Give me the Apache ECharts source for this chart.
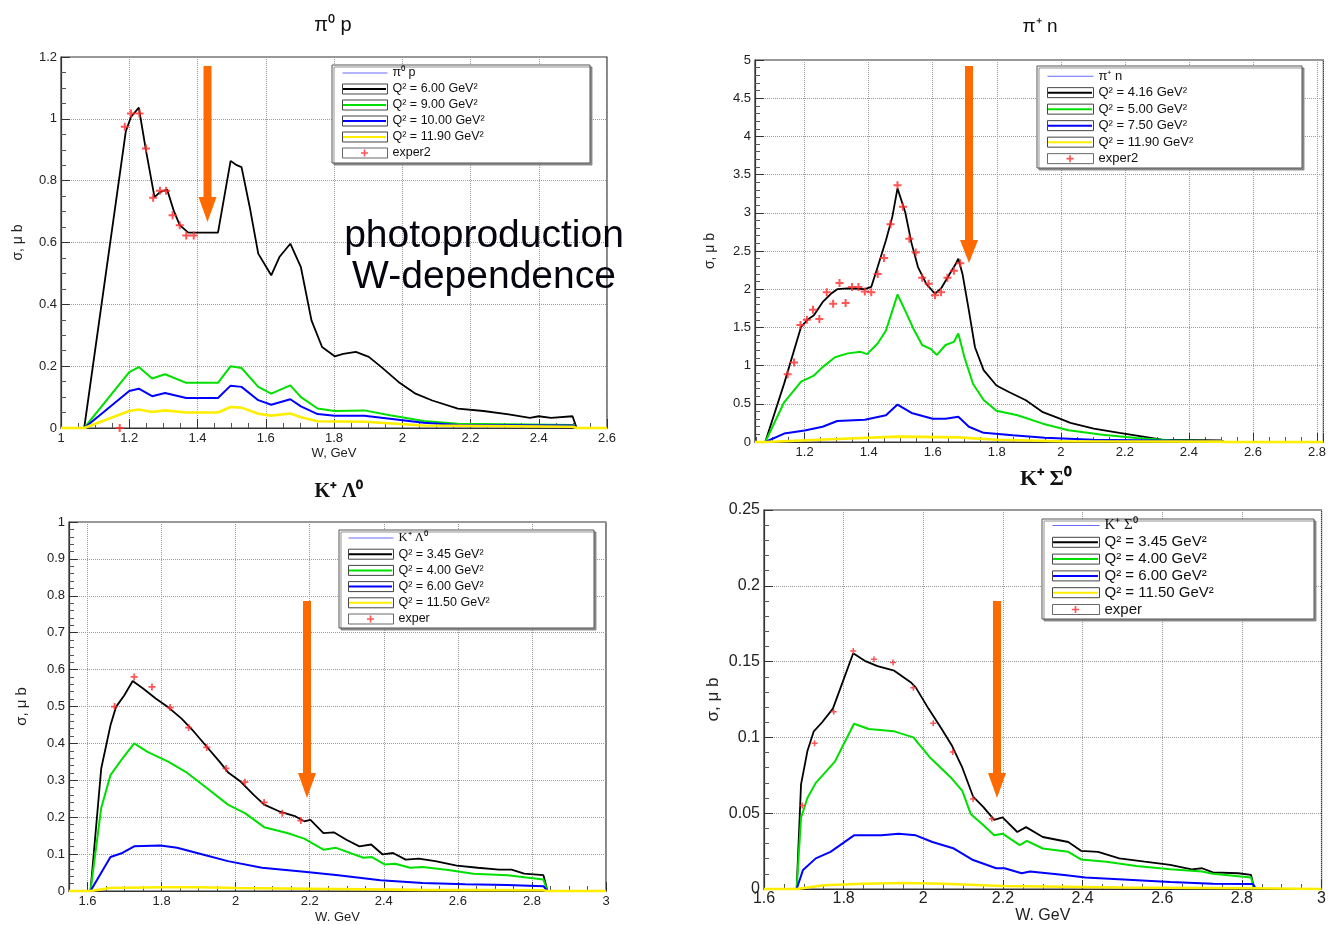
<!DOCTYPE html>
<html><head><meta charset="utf-8">
<script src="https://cdn.jsdelivr.net/npm/echarts@6/dist/echarts.min.js"></script>
<style>html,body{margin:0;padding:0;background:#fff}#c{width:1329px;height:925px}</style>
</head><body><div id="c"></div>
<script>
// ---------- π0 p panel ----------
const pi0p_names = ['π⁰ p', 'Q² = 6.00 GeV²', 'Q² = 9.00 GeV²', 'Q² = 10.00 GeV²', 'Q² = 11.90 GeV²', 'exper2'];
const pi0p_q1 = [[1.068,0],[1.19,0.96],[1.205,1.006],[1.228,1.036],[1.249,0.898],[1.274,0.747],[1.29,0.763],[1.311,0.771],[1.33,0.704],[1.348,0.656],[1.373,0.632],[1.46,0.632],[1.497,0.864],[1.515,0.85],[1.529,0.844],[1.553,0.715],[1.578,0.564],[1.616,0.494],[1.64,0.553],[1.672,0.596],[1.703,0.52],[1.734,0.348],[1.765,0.262],[1.802,0.232],[1.827,0.24],[1.864,0.246],[1.902,0.23],[1.939,0.197],[1.989,0.149],[2.039,0.111],[2.088,0.089],[2.163,0.063],[2.238,0.055],[2.312,0.044],[2.374,0.033],[2.4,0.038],[2.436,0.033],[2.499,0.038],[2.511,0]];
const pi0p_q2 = [[1.068,0],[1.2,0.181],[1.228,0.197],[1.267,0.16],[1.305,0.174],[1.367,0.146],[1.46,0.146],[1.497,0.2],[1.529,0.194],[1.578,0.133],[1.616,0.111],[1.672,0.138],[1.703,0.1],[1.752,0.063],[1.802,0.055],[1.889,0.057],[1.964,0.041],[2.063,0.023],[2.163,0.014],[2.5,0.01],[2.511,0]];
const pi0p_q3 = [[1.068,0],[1.2,0.12],[1.228,0.127],[1.267,0.103],[1.305,0.113],[1.367,0.097],[1.46,0.097],[1.497,0.137],[1.529,0.133],[1.578,0.09],[1.616,0.075],[1.672,0.093],[1.703,0.07],[1.752,0.045],[1.802,0.04],[1.889,0.04],[1.964,0.03],[2.063,0.017],[2.163,0.01],[2.5,0.008],[2.511,0]];
const pi0p_q4 = [[1,0],[1.068,0],[1.2,0.055],[1.228,0.06],[1.267,0.052],[1.305,0.057],[1.367,0.05],[1.46,0.05],[1.497,0.068],[1.529,0.066],[1.578,0.046],[1.616,0.04],[1.672,0.047],[1.703,0.035],[1.752,0.022],[1.889,0.02],[2.063,0.008],[2.5,0.004],[2.511,0],[2.6,0]];
const pi0p_exp = [[1.172,0],[1.187,0.974],[1.205,1.017],[1.23,1.017],[1.249,0.904],[1.27,0.745],[1.29,0.767],[1.308,0.767],[1.327,0.688],[1.348,0.656],[1.367,0.623],[1.389,0.623]];

// ---------- π+ n panel ----------
const pipn_names = ['π⁺ n', 'Q² = 4.16 GeV²', 'Q² = 5.00 GeV²', 'Q² = 7.50 GeV²', 'Q² = 11.90 GeV²', 'exper2'];
const pipn_q1 = [[1.077,0],[1.136,0.764],[1.189,1.507],[1.209,1.6],[1.229,1.66],[1.256,1.83],[1.282,1.94],[1.302,2.0],[1.335,2.01],[1.388,2.0],[1.408,2.03],[1.428,2.29],[1.454,2.64],[1.474,2.95],[1.49,3.32],[1.514,3.01],[1.534,2.6],[1.554,2.29],[1.58,2.07],[1.607,1.94],[1.626,2.01],[1.653,2.2],[1.673,2.34],[1.68,2.4],[1.693,2.2],[1.713,1.72],[1.732,1.24],[1.759,0.94],[1.799,0.74],[1.838,0.655],[1.891,0.546],[1.944,0.39],[1.997,0.306],[2.03,0.25],[2.103,0.175],[2.183,0.118],[2.262,0.066],[2.315,0.031],[2.5,0.02],[2.51,0]];
const pipn_q2 = [[1.077,0],[1.136,0.52],[1.189,0.79],[1.229,0.87],[1.256,0.98],[1.295,1.11],[1.335,1.16],[1.375,1.18],[1.395,1.15],[1.428,1.29],[1.454,1.46],[1.474,1.72],[1.49,1.93],[1.514,1.72],[1.54,1.48],[1.567,1.27],[1.593,1.22],[1.613,1.14],[1.64,1.27],[1.666,1.31],[1.68,1.42],[1.699,1.11],[1.726,0.76],[1.759,0.55],[1.799,0.41],[1.865,0.35],[1.944,0.24],[2.024,0.153],[2.13,0.096],[2.236,0.052],[2.342,0.022],[2.5,0.01],[2.51,0]];
const pipn_q3 = [[1.077,0],[1.136,0.11],[1.2,0.15],[1.256,0.2],[1.302,0.275],[1.388,0.29],[1.454,0.35],[1.49,0.49],[1.534,0.38],[1.6,0.305],[1.64,0.305],[1.68,0.33],[1.713,0.2],[1.759,0.12],[1.85,0.087],[1.95,0.057],[2.1,0.03],[2.5,0.01],[2.51,0]];
const pipn_q4 = [[1.045,0],[1.077,0],[1.3,0.04],[1.49,0.07],[1.68,0.06],[1.8,0.03],[2.0,0.01],[2.5,0.005],[2.51,0],[2.82,0]];
const pipn_exp = [[1.147,0.886],[1.167,1.04],[1.187,1.53],[1.207,1.6],[1.226,1.73],[1.246,1.61],[1.269,1.96],[1.289,1.81],[1.309,2.08],[1.328,1.82],[1.348,2.03],[1.368,2.03],[1.388,1.97],[1.408,1.96],[1.428,2.2],[1.448,2.41],[1.468,2.85],[1.49,3.36],[1.507,3.08],[1.527,2.66],[1.547,2.48],[1.567,2.15],[1.587,2.07],[1.607,1.92],[1.626,1.96],[1.646,2.15],[1.666,2.24],[1.686,2.34]];

// ---------- K+ Λ0 panel ----------
const kl_names = ['K⁺ Λ⁰', 'Q² = 3.45 GeV²', 'Q² = 4.00 GeV²', 'Q² = 6.00 GeV²', 'Q² = 11.50 GeV²', 'exper'];
const kl_q1 = [[1.608,0],[1.637,0.332],[1.662,0.449],[1.677,0.499],[1.699,0.53],[1.722,0.569],[1.751,0.548],[1.785,0.521],[1.819,0.497],[1.854,0.467],[1.888,0.431],[1.922,0.391],[1.957,0.35],[1.979,0.322],[2.014,0.296],[2.048,0.261],[2.077,0.234],[2.117,0.216],[2.162,0.202],[2.185,0.189],[2.202,0.193],[2.237,0.157],[2.265,0.159],[2.299,0.139],[2.334,0.121],[2.366,0.126],[2.397,0.099],[2.425,0.103],[2.459,0.085],[2.494,0.088],[2.539,0.081],[2.597,0.069],[2.654,0.063],[2.711,0.058],[2.745,0.058],[2.779,0.047],[2.831,0.043],[2.842,0]];
const kl_q2 = [[1.608,0],[1.637,0.225],[1.662,0.314],[1.694,0.359],[1.726,0.4],[1.762,0.377],[1.819,0.35],[1.865,0.323],[1.922,0.279],[1.979,0.234],[2.025,0.211],[2.077,0.173],[2.139,0.157],[2.185,0.142],[2.237,0.112],[2.271,0.117],[2.345,0.09],[2.368,0.092],[2.402,0.072],[2.431,0.074],[2.471,0.063],[2.505,0.065],[2.574,0.057],[2.642,0.047],[2.734,0.043],[2.831,0.031],[2.842,0]];
const kl_q3 = [[1.608,0],[1.662,0.092],[1.694,0.103],[1.726,0.121],[1.797,0.123],[1.842,0.117],[1.911,0.099],[1.979,0.081],[2.071,0.063],[2.185,0.052],[2.277,0.043],[2.391,0.029],[2.505,0.022],[2.62,0.018],[2.734,0.016],[2.831,0.013],[2.842,0]];
const kl_q4 = [[1.55,0],[1.608,0],[1.66,0.008],[1.8,0.01],[1.9,0.01],[2.0,0.008],[2.2,0.006],[2.5,0.003],[2.83,0.002],[2.842,0],[3,0]];
const kl_exp = [[1.673,0.5],[1.726,0.58],[1.774,0.553],[1.823,0.497],[1.873,0.443],[1.922,0.389],[1.974,0.332],[2.025,0.295],[2.077,0.24],[2.126,0.211],[2.176,0.191]];

// ---------- K+ Σ0 panel ----------
const ks_names = ['K⁺ Σ⁰', 'Q² = 3.45 GeV²', 'Q² = 4.00 GeV²', 'Q² = 6.00 GeV²', 'Q² = 11.50 GeV²', 'exper'];
const ks_q1 = [[1.682,0],[1.693,0.069],[1.709,0.091],[1.725,0.104],[1.746,0.11],[1.773,0.119],[1.794,0.134],[1.824,0.1555],[1.853,0.1505],[1.885,0.147],[1.927,0.144],[1.97,0.136],[1.981,0.133],[2.013,0.119],[2.045,0.106],[2.071,0.095],[2.098,0.08],[2.125,0.061],[2.151,0.054],[2.178,0.0456],[2.199,0.0473],[2.236,0.0376],[2.258,0.0408],[2.3,0.0343],[2.364,0.031],[2.396,0.0252],[2.439,0.0245],[2.492,0.0202],[2.556,0.018],[2.62,0.0159],[2.674,0.013],[2.7,0.0137],[2.727,0.011],[2.791,0.0104],[2.823,0.0093],[2.831,0]];
const ks_q2 = [[1.682,0],[1.693,0.047],[1.709,0.06],[1.73,0.07],[1.778,0.084],[1.799,0.095],[1.826,0.109],[1.863,0.1055],[1.927,0.104],[1.975,0.1],[2.018,0.0864],[2.071,0.073],[2.098,0.0647],[2.119,0.0495],[2.151,0.042],[2.178,0.0354],[2.199,0.0365],[2.242,0.0289],[2.26,0.0317],[2.3,0.0267],[2.364,0.0245],[2.396,0.0195],[2.46,0.018],[2.535,0.0152],[2.62,0.013],[2.7,0.0115],[2.727,0.01],[2.823,0.0076],[2.831,0]];
const ks_q3 = [[1.682,0],[1.698,0.0126],[1.73,0.0202],[1.767,0.0245],[1.826,0.0354],[1.895,0.0354],[1.938,0.0365],[1.981,0.0354],[2.023,0.031],[2.077,0.0267],[2.125,0.0191],[2.183,0.0137],[2.204,0.0137],[2.247,0.0104],[2.268,0.0115],[2.354,0.0093],[2.407,0.0076],[2.514,0.0061],[2.62,0.0046],[2.727,0.0035],[2.828,0.0033],[2.835,0]];
const ks_q4 = [[1.6,0],[1.682,0],[1.75,0.0025],[1.85,0.0035],[1.95,0.004],[2.05,0.0035],[2.2,0.002],[2.5,0.001],[2.83,0.0005],[2.835,0],[3,0]];
const ks_exp = [[1.696,0.055],[1.727,0.0962],[1.775,0.1169],[1.824,0.157],[1.876,0.1516],[1.924,0.1494],[1.975,0.1327],[2.025,0.1093],[2.074,0.0904],[2.125,0.0593],[2.172,0.0463]];

const COLORS = ['#6a6aff', '#000000', '#00e000', '#0000ff', '#ffee00', '#ff2a2a'];
const SANS = '"Liberation Sans", Arial, Helvetica, sans-serif';
const SERIF = '"Liberation Serif", "Times New Roman", serif';

const chart = echarts.init(document.getElementById('c'), null, {renderer: 'canvas'});

const grids = [
  {left: 61, top: 57, width: 546, height: 371},
  {left: 755, top: 60, width: 572, height: 382},
  {left: 69, top: 522, width: 537, height: 371},
  {left: 764, top: 510, width: 562, height: 383}
].map(g => Object.assign({show: true, borderColor: '#333', borderWidth: 1.2, backgroundColor: 'transparent'}, g));

function xAx(i, o) {
  return {
    type: 'value', gridIndex: i, min: o.min, max: o.max, interval: o.interval, splitNumber: o.splitNumber,
    axisLine: {onZero: false, lineStyle: {color: '#333', width: 1.2}},
    axisTick: {inside: true, length: 9, lineStyle: {color: '#333'}},
    minorTick: {show: true, splitNumber: 4, length: 5, lineStyle: {color: '#555'}},
    splitLine: {show: true, lineStyle: {color: '#9a9a9a', type: 'dotted'}},
    axisLabel: {color: '#222', fontFamily: SANS, fontSize: o.fs, margin: o.margin, showMinLabel: o.showMin, showMaxLabel: o.showMax},
    name: o.name || '', nameLocation: 'middle', nameGap: o.nameGap || 20,
    nameTextStyle: {color: '#222', fontFamily: SANS, fontSize: o.nfs || 13}
  };
}
function yAx(i, o) {
  return {
    type: 'value', gridIndex: i, min: o.min, max: o.max, interval: o.interval,
    axisLine: {onZero: false, lineStyle: {color: '#333', width: 1.2}},
    axisTick: {inside: true, length: 9, lineStyle: {color: '#333'}},
    minorTick: {show: true, splitNumber: o.minor, length: 5, lineStyle: {color: '#555'}},
    splitLine: {show: true, lineStyle: {color: '#9a9a9a', type: 'dotted'}},
    axisLabel: {color: '#222', fontFamily: SANS, fontSize: o.fs, margin: 4},
    name: 'σ, μ b', nameLocation: 'middle', nameGap: o.nameGap, nameRotate: 90,
    nameTextStyle: {color: '#222', fontFamily: SANS, fontSize: o.nfs}
  };
}

const xAxes = [
  xAx(0, {min: 1, max: 2.6, interval: 0.2, fs: 13, margin: 4, name: 'W, GeV', nameGap: 19}),
  xAx(1, {min: 1.045, max: 2.82, splitNumber: 9, fs: 13, margin: 4, showMin: false, showMax: false}),
  xAx(2, {min: 1.55, max: 3, splitNumber: 7, fs: 13, margin: 4, showMin: false, name: 'W. GeV', nameGap: 20}),
  xAx(3, {min: 1.6, max: 3, interval: 0.2, fs: 16, margin: 2, name: 'W. GeV', nameGap: 19, nfs: 16})
];
const yAxes = [
  yAx(0, {min: 0, max: 1.2, interval: 0.2, minor: 4, fs: 13, nameGap: 36, nfs: 14}),
  yAx(1, {min: 0, max: 5, interval: 0.5, minor: 5, fs: 13, nameGap: 38, nfs: 14}),
  yAx(2, {min: 0, max: 1, interval: 0.1, minor: 5, fs: 13, nameGap: 40, nfs: 15}),
  yAx(3, {min: 0, max: 0.25, interval: 0.05, minor: 5, fs: 16, nameGap: 42, nfs: 17})
];

const PLUS = 'path://M3,0H5V8H3ZM0,3H8V5H0Z';
function panelSeries(gi, names, q1, q2, q3, q4, exp, expSize) {
  const line = (name, data, color, w) => ({
    type: 'line', name, data, xAxisIndex: gi, yAxisIndex: gi, symbol: 'none', showSymbol: false,
    lineStyle: {color, width: w}, itemStyle: {color}, clip: false, animation: false
  });
  return [
    line(names[0], [], COLORS[0], 1),
    line(names[1], q1, COLORS[1], 1.8),
    line(names[2], q2, COLORS[2], 2),
    line(names[3], q3, COLORS[3], 2),
    line(names[4], q4, COLORS[4], 2.6),
    {type: 'scatter', name: names[5], data: exp, xAxisIndex: gi, yAxisIndex: gi, symbol: PLUS,
     symbolSize: expSize, itemStyle: {color: COLORS[5]}, clip: false, animation: false, z: 3}
  ];
}

const HEADER_ICON = 'path://M0,0M0,4.5H45V5.5H0ZM45,10';
const BAR_ICON = 'path://M0,0M1,4H44V6H1ZM45,10';
const PLUS_ICON = 'path://M0,0M21.7,1.5H23.3V8.5H21.7ZM19,4.2H26V5.8H19ZM45,10';
function legends(cfg) {
  const base = {
    orient: 'vertical', left: cfg.left, top: cfg.top, padding: 0, itemWidth: cfg.iw, itemHeight: 10,
    itemGap: cfg.gap, itemTextGap: cfg.tg, selectedMode: false, symbolKeepAspect: false
  };
  const A = Object.assign({}, base, {
    z: 6,
    icon: 'rect',
    itemStyle: {color: '#ffffff', borderColor: '#444', borderWidth: 1},
    textStyle: {fontSize: cfg.fs, fontFamily: SANS, color: '#111', lineHeight: cfg.lh},
    data: cfg.names.map((n, k) => k === 0
      ? {name: n, icon: HEADER_ICON, itemStyle: {color: COLORS[0], borderWidth: 0}, textStyle: {fontFamily: cfg.hfont, fontSize: cfg.fs, lineHeight: cfg.lh}}
      : {name: n})
  });
  const B = Object.assign({}, base, {
    z: 7,
    textStyle: {fontSize: cfg.fs, fontFamily: SANS, color: 'rgba(0,0,0,0)', lineHeight: cfg.lh},
    data: cfg.names.map((n, k) => {
      if (k === 0) return {name: n, icon: HEADER_ICON, itemStyle: {color: 'rgba(0,0,0,0)', borderWidth: 0}, textStyle: {fontFamily: cfg.hfont, fontSize: cfg.fs, lineHeight: cfg.lh, color: 'rgba(0,0,0,0)'}};
      if (k === 5) return {name: n, icon: PLUS_ICON, itemStyle: {color: COLORS[5], borderWidth: 0}};
      return {name: n, icon: BAR_ICON, itemStyle: {color: COLORS[k], borderWidth: 0}};
    })
  });
  return [A, B];
}

const legendList = [].concat(
  legends({names: pi0p_names, left: 342, top: 66, iw: 45, gap: 2, tg: 8, fs: 12.5, lh: 14, hfont: SANS}),
  legends({names: pipn_names, left: 1047, top: 69, iw: 46, gap: 2.2, tg: 9, fs: 13, lh: 14.3, hfont: SANS}),
  legends({names: kl_names, left: 348, top: 531, iw: 45, gap: 2.2, tg: 9, fs: 12.5, lh: 14, hfont: SERIF}),
  legends({names: ks_names, left: 1052, top: 518, iw: 47, gap: 1.8, tg: 9, fs: 15, lh: 15, hfont: SERIF})
);

function frame(x, y, w, h) {
  return {type: 'rect', z: 5, shape: {x, y, width: w, height: h},
    style: {fill: '#fff', stroke: '#555', lineWidth: 1, shadowColor: 'rgba(120,120,120,0.8)', shadowOffsetX: 2, shadowOffsetY: 2, shadowBlur: 0}};
}
function arrow(x, top, head, tip) {
  return {type: 'polygon', z: 8, shape: {points: [[x - 4, top], [x + 4, top], [x + 4, head], [x + 9, head], [x, tip], [x - 9, head], [x - 4, head]]},
    style: {fill: '#ff6a00'}};
}
function txt(text, x, y, font, color) {
  return {type: 'text', z: 8, style: {text, x, y, font, fill: color || '#111', textAlign: 'center', textVerticalAlign: 'middle'}};
}

const option = {
  backgroundColor: '#ffffff',
  animation: false,
  grid: grids,
  xAxis: xAxes,
  yAxis: yAxes,
  legend: legendList,
  series: [].concat(
    panelSeries(0, pi0p_names, pi0p_q1, pi0p_q2, pi0p_q3, pi0p_q4, pi0p_exp, 8),
    panelSeries(1, pipn_names, pipn_q1, pipn_q2, pipn_q3, pipn_q4, pipn_exp, 8),
    panelSeries(2, kl_names, kl_q1, kl_q2, kl_q3, kl_q4, kl_exp, 7),
    panelSeries(3, ks_names, ks_q1, ks_q2, ks_q3, ks_q4, ks_exp, 6)
  ),
  graphic: [
    frame(332, 65, 258, 98),
    frame(1037, 66, 265, 102),
    frame(339, 530, 255, 98),
    frame(1042, 519, 272, 100),
    arrow(207.5, 66, 197, 222),
    arrow(969, 66, 240, 263),
    arrow(307, 601, 773, 798),
    arrow(997, 601, 773, 798),
    txt('π⁰ p', 333, 25, '20px ' + SANS),
    txt('π⁺ n', 1040, 27, '19px ' + SANS),
    txt('K⁺ Λ⁰', 339, 492, 'bold 20px ' + SERIF),
    txt('K⁺ Σ⁰', 1046, 479, 'bold 22px ' + SERIF),
    txt('photoproduction', 484, 236, '39px ' + SANS, '#050510'),
    txt('W-dependence', 484, 277, '39px ' + SANS, '#050510')
  ]
};
chart.setOption(option);
</script>
</body></html>
